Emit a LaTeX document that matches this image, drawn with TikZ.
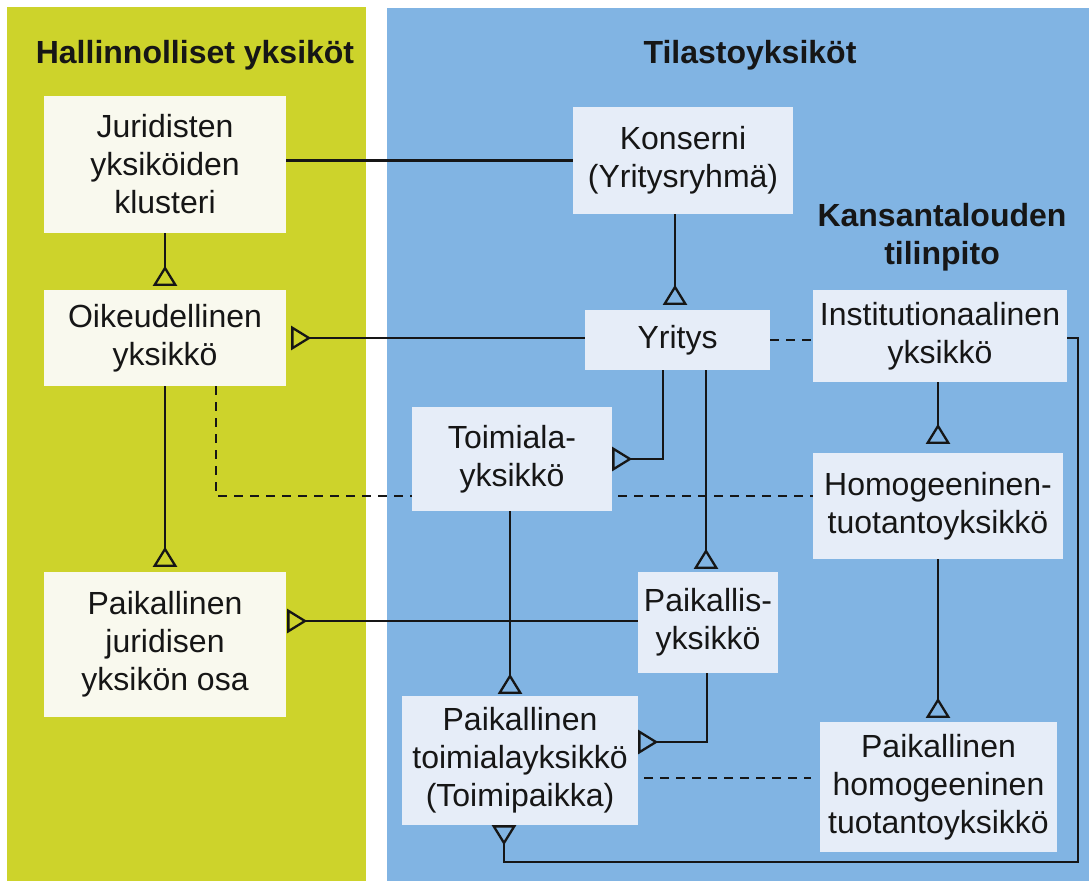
\documentclass[tikz,border=0pt]{standalone}
\usepackage{fontspec}
\setmainfont{Liberation Sans}
\usetikzlibrary{arrows.meta}
\pgfdeclarelayer{bg}
\pgfdeclarelayer{lines}
\pgfsetlayers{bg,lines,main}
\definecolor{greenbg}{HTML}{CDD32B}
\definecolor{bluebg}{HTML}{81B4E3}
\definecolor{greenbox}{HTML}{F9F9EE}
\definecolor{bluebox}{HTML}{E6EDF8}
\definecolor{ink}{HTML}{161616}
\begin{document}
\begin{tikzpicture}[x=1pt,y=-1pt,
  font=\fontsize{32}{38}\selectfont,
  box/.style={inner sep=0pt, align=center, text=ink},
  gbox/.style={box, fill=greenbox},
  bbox/.style={box, fill=bluebox},
  title/.style={inner sep=0pt, align=center, font=\fontsize{32}{38}\selectfont\bfseries, text=ink},
  conn/.style={draw=ink, line width=2.3pt},
  tri/.style={conn, -{Triangle[open, reversed, length=20pt, width=24pt]}},
  dashline/.style={conn, dash pattern=on 9pt off 7pt},
]
\useasboundingbox (0,0) rectangle (1089,881);

% nodes
\node[title] (t1) at (195,55) {Hallinnolliset yksiköt};
\node[title] (t2) at (750,55) {Tilastoyksiköt};
\node[title] (t3) at (942,237) {Kansantalouden\\tilinpito};

\node[gbox, minimum width=242pt, minimum height=137pt] (jur) at (165,164.5) {Juridisten\\yksiköiden\\klusteri};
\node[gbox, minimum width=242pt, minimum height=96pt] (oik) at (165,338) {Oikeudellinen\\yksikkö};
\node[gbox, minimum width=242pt, minimum height=145pt] (pjur) at (165,644.5) {Paikallinen\\juridisen\\yksikön osa};

\node[bbox, minimum width=220pt, minimum height=107pt] (kon) at (683,160.5) {Konserni\\(Yritysryhmä)};
\node[bbox, minimum width=185pt, minimum height=60pt] (yri) at (677.5,340) {Yritys};
\node[bbox, minimum width=200pt, minimum height=104pt] (toi) at (512,459) {Toimiala-\\yksikkö};
\node[bbox, minimum width=254pt, minimum height=92pt] (ins) at (940,336) {Institutionaalinen\\yksikkö};
\node[bbox, minimum width=250pt, minimum height=106pt] (hom) at (938,506) {Homogeeninen-\\tuotantoyksikkö};
\node[bbox, minimum width=140pt, minimum height=101pt] (pyk) at (708,622.5) {Paikallis-\\yksikkö};
\node[bbox, minimum width=236pt, minimum height=129pt] (pty) at (520,760.5) {Paikallinen\\toimialayksikkö\\(Toimipaikka)};
\node[bbox, minimum width=237pt, minimum height=130pt] (phom) at (938.5,787) {Paikallinen\\homogeeninen\\tuotantoyksikkö};

\coordinate (loopc) at (1078,862);

\begin{pgfonlayer}{bg}
  \fill[white] (0,0) rectangle (1089,881);
  \fill[greenbg] (7,7) rectangle (366,881);
  \fill[bluebg] (387,8) rectangle (1089,881);
\end{pgfonlayer}

\begin{pgfonlayer}{lines}
  % solid connectors
  \draw[conn] (kon.west -| jur.east) -- (kon.west);
  \draw[tri, shorten >=4pt] (jur.south) -- (oik.north);
  \draw[tri, shorten >=5pt] ([xshift=-2.5pt]yri.north |- kon.south) -- ([xshift=-2.5pt]yri.north);
  \draw[tri, shorten >=5pt] (yri.west |- oik.east) -- (oik.east);
  \draw[tri] ([xshift=-14.5pt]yri.south) |- (toi.east);
  \draw[tri, shorten >=3pt] ([xshift=-2pt]pyk.north |- yri.south) -- ([xshift=-2pt]pyk.north);
  \draw[tri, shorten >=5pt] (oik.south) -- (pjur.north);
  \draw[tri, shorten >=1pt] ([yshift=1.5pt]pyk.west) -- ([yshift=1.5pt]pyk.west -| pjur.east);
  \draw[tri, shorten >=2pt] ([xshift=-2pt]toi.south) -- ([xshift=-2pt]toi.south |- pty.north);
  \draw[tri] ([xshift=-1pt]pyk.south) |- ([yshift=18.5pt]pty.east);
  \draw[tri, shorten >=9pt] (hom.north |- ins.south) -- (hom.north);
  \draw[tri, shorten >=4pt] (hom.south) -- (hom.south |- phom.north);
  \draw[tri] ([yshift=-2pt]ins.east) -| (loopc) -| ([xshift=-16pt]pty.south);
  % dashed connectors
  \draw[dashline] (yri.east) -- (yri.east -| ins.west);
  \draw[dashline] ([xshift=51pt]oik.south) |- ([yshift=10pt]hom.west);
  \draw[dashline, shorten <=6pt, shorten >=9pt] ([yshift=-17.5pt]pty.east) -- ([yshift=-17.5pt]pty.east -| phom.west);
\end{pgfonlayer}
\end{tikzpicture}
\end{document}
